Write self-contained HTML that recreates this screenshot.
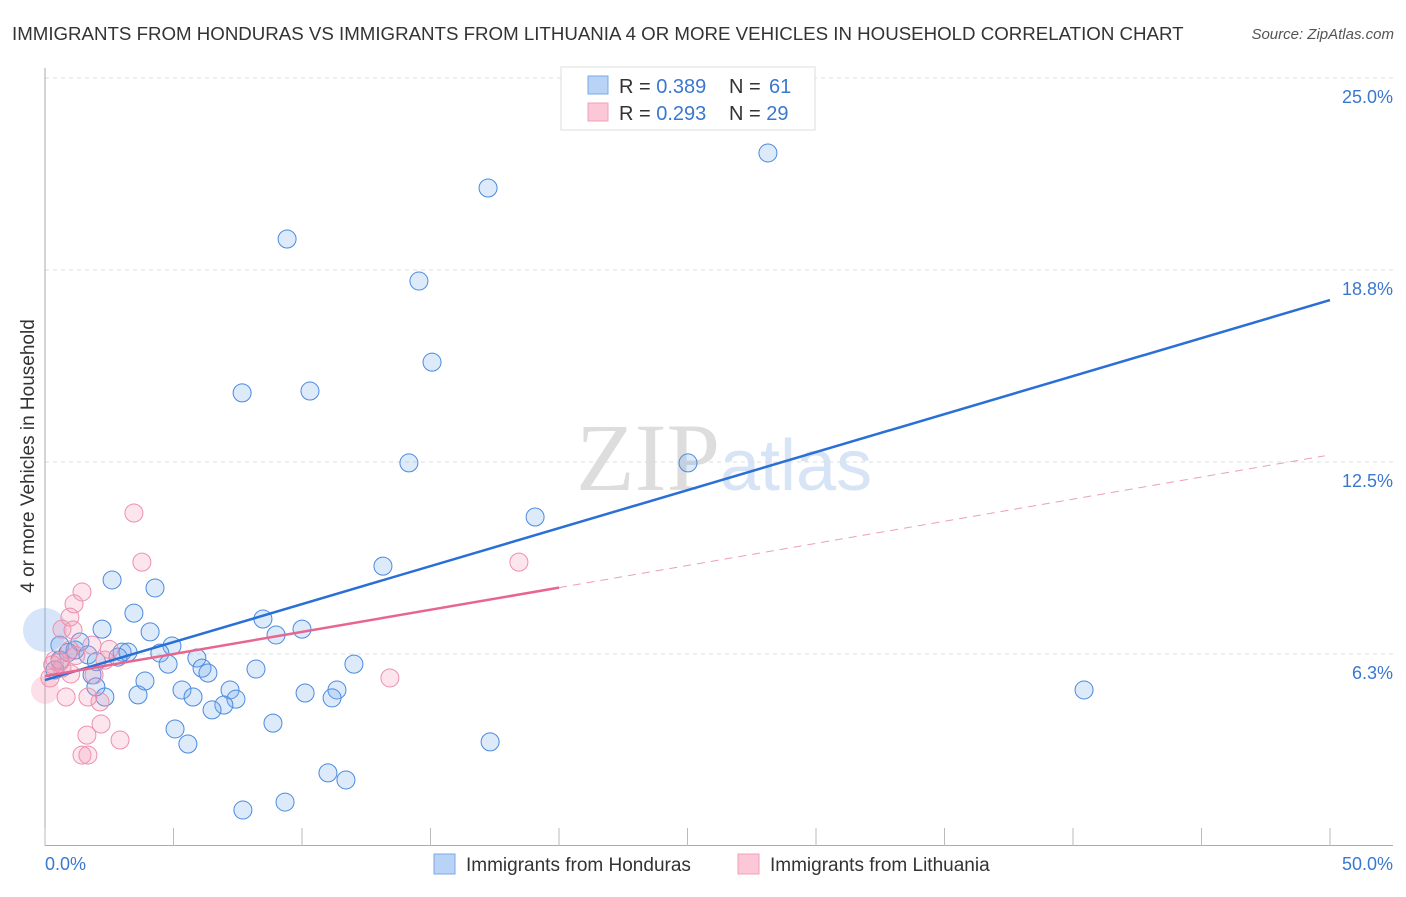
<!DOCTYPE html>
<html><head><meta charset="utf-8"><style>
body{margin:0;background:#fff;font-family:"Liberation Sans",sans-serif;}
svg text{font-family:"Liberation Sans",sans-serif;}
</style></head><body>
<svg id="chart" width="1406" height="892">
<text x="12" y="40" font-size="18.7" fill="#333">IMMIGRANTS FROM HONDURAS VS IMMIGRANTS FROM LITHUANIA 4 OR MORE VEHICLES IN HOUSEHOLD CORRELATION CHART</text>
<text x="1394" y="39" font-size="15" fill="#555" font-style="italic" text-anchor="end">Source: ZipAtlas.com</text>
<text x="720" y="490" font-size="96" fill="#ddd" text-anchor="end" style="font-family:'Liberation Serif',serif">ZIP</text>
<text x="720" y="490" font-size="72" fill="#d6e4f5">atlas</text>
<g id="grid"></g>
<g id="axes"></g>
<g id="pts"></g>
<g id="lines"></g>
<text transform="translate(34,456) rotate(-90)" font-size="19" fill="#333" text-anchor="middle">4 or more Vehicles in Household</text>
<text x="45" y="870" font-size="18" fill="#3a78d0">0.0%</text>
<text x="1393" y="870" font-size="18" fill="#3a78d0" text-anchor="end">50.0%</text>
<g>
<rect x="561" y="67" width="254" height="63" fill="#fff" stroke="#ddd"/>
<rect x="588" y="76" width="20" height="18" fill="#b8d3f5" stroke="#7aa9e6"/>
<rect x="588" y="103" width="20" height="18" fill="#fcc8d8" stroke="#f0a0b8"/>
<text x="619" y="93" font-size="20" fill="#333">R = <tspan fill="#3a78d0">0.389</tspan></text>
<text x="729" y="93" font-size="20" fill="#333">N = <tspan x="769" fill="#3a78d0">61</tspan></text>
<text x="619" y="120" font-size="20" fill="#333">R = <tspan fill="#3a78d0">0.293</tspan></text>
<text x="729" y="120" font-size="20" fill="#333">N = <tspan fill="#3a78d0">29</tspan></text>
</g>
<g>
<rect x="434" y="854" width="21" height="20" fill="#b8d3f5" stroke="#7aa9e6"/>
<text x="466" y="871" font-size="19" fill="#333">Immigrants from Honduras</text>
<rect x="738" y="854" width="21" height="20" fill="#fcc8d8" stroke="#f0a0b8"/>
<text x="770" y="871" font-size="19" fill="#333">Immigrants from Lithuania</text>
</g>
</svg>
<script>
const yTicks=[6.25,12.5,18.75,25];
const yTickLabels=["6.3%","12.5%","18.8%","25.0%"];
const xTicks=[0,5,10,15,20,25,30,35,40,45,50];
const hondurasX=[28.13,17.24,9.42,14.55,15.06,7.67,10.31,14.16,25.02,19.07,13.15,2.61,4.28,3.46,8.48,4.09,2.22,8.99,10.0,4.94,1.36,0.58,1.17,1.67,3.0,3.23,2.84,4.47,4.79,5.91,6.11,6.34,8.21,12.02,3.89,1.83,1.98,2.33,3.62,5.33,5.76,7.2,7.43,6.96,6.5,10.12,11.36,11.17,40.43,5.06,5.56,8.87,17.32,11.01,11.71,9.34,7.7,0.58,0.39,0.9,2.0];
const hondurasY=[22.56,21.42,19.76,18.39,15.75,14.75,14.81,12.47,12.47,10.71,9.11,8.66,8.4,7.58,7.39,6.97,7.06,6.87,7.06,6.51,6.64,6.54,6.38,6.22,6.31,6.31,6.15,6.28,5.92,6.12,5.79,5.63,5.76,5.92,5.37,5.57,5.18,4.85,4.92,5.08,4.85,5.08,4.78,4.59,4.43,4.98,5.08,4.82,5.08,3.81,3.32,4.0,3.39,2.38,2.15,1.43,1.17,6.05,5.73,6.3,6.0];
const lithuaniaX=[3.46,3.77,1.44,1.13,0.97,0.66,1.09,1.83,0.97,0.39,0.66,0.19,1.91,2.33,0.82,1.67,2.14,2.18,1.63,2.92,1.44,1.67,18.44,13.42,0.58,1.2,0.3,2.5,1.0];
const lithuaniaY=[10.84,9.24,8.27,7.88,7.45,7.06,7.03,6.54,6.38,6.05,5.79,5.47,5.57,6.05,4.85,4.85,4.69,3.97,3.61,3.45,2.96,2.96,9.24,5.47,5.99,6.2,5.9,6.4,5.6];
const hondurasFit=[5.4,17.77];
const lithuaniaFit=[5.53,12.73];
const X0=45,X1=1330,Y0=846,YS=192/6.25;
const sx=v=>X0+(X1-X0)*v/50, sy=v=>Y0-v*YS;
const NS='http://www.w3.org/2000/svg';
function mk(tag,at,parent){const e=document.createElementNS(NS,tag);for(const k in at)e.setAttribute(k,at[k]);document.getElementById(parent).appendChild(e);return e;}
yTicks.forEach((t,i)=>{
 const g=mk('line',{x1:45,x2:1393,y1:sy(t),y2:sy(t),stroke:'#ddd','stroke-dasharray':'4,4'},'grid');
 
 
 const l=mk('text',{x:1393,y:sy(t)+25,'font-size':18,fill:'#3a78d0','text-anchor':'end'},'grid');
 l.textContent=yTickLabels[i];
 
 
});
const ax=mk('line',{x1:45,x2:45,y1:68,y2:846,stroke:'#aaa'},'axes');


const bx=mk('line',{x1:45,x2:1393,y1:845.5,y2:845.5,stroke:'#aaa'},'axes');


xTicks.forEach(t=>{
 const k=mk('line',{x1:sx(t),x2:sx(t),y1:828,y2:846,stroke:'#bbb'},'axes');
 
 
});
hondurasX.forEach((x,i)=>{
 const c=mk('circle',{cx:sx(x),cy:sy(hondurasY[i]),r:9,fill:'rgba(120,170,235,0.25)',stroke:'#4a8ae0','stroke-width':1},'pts');
 
 
});
const bigB=mk('circle',{cx:sx(0),cy:sy(7.03),r:22,fill:'rgba(120,170,235,0.3)',stroke:'none'},'pts');


lithuaniaX.forEach((x,i)=>{
 const c=mk('circle',{cx:sx(x),cy:sy(lithuaniaY[i]),r:9,fill:'rgba(245,150,180,0.25)',stroke:'#ec90ae','stroke-width':1},'pts');
 
 
});
const bigP=mk('circle',{cx:sx(0),cy:sy(5.08),r:14,fill:'rgba(245,150,180,0.3)',stroke:'none'},'pts');


const bl=mk('line',{x1:sx(0),y1:sy(hondurasFit[0]),x2:sx(50),y2:sy(hondurasFit[1]),stroke:'#2a6fd6','stroke-width':2.5},'lines');


const pAt=v=>lithuaniaFit[0]+(lithuaniaFit[1]-lithuaniaFit[0])*v/50;
const pl=mk('line',{x1:sx(0),y1:sy(pAt(0)),x2:sx(20),y2:sy(pAt(20)),stroke:'#e8658e','stroke-width':2.5},'lines');


const pd=mk('line',{x1:sx(20),y1:sy(pAt(20)),x2:sx(49.8),y2:sy(pAt(49.8)),stroke:'#eca0b8','stroke-width':1,'stroke-dasharray':'8,6'},'lines');


</script>
</body></html>
